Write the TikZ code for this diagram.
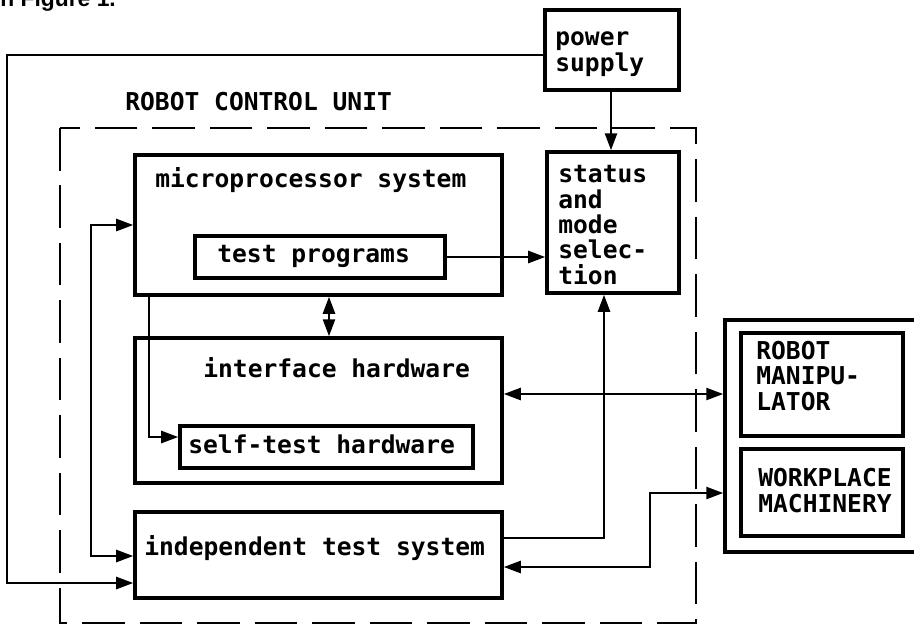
\documentclass[tikz,border=0pt]{standalone}
\usepackage{fontspec}
\setmainfont{Liberation Sans}
\setmonofont{DejaVu Sans Mono}
\usetikzlibrary{arrows.meta,fit}

\begin{document}
\begin{tikzpicture} [x=0.02cm, y=-0.02cm,
				block/.style={
				% The shape:
				rectangle,
				% The size:
				inner sep=0pt,
				% The border:
				line width=2pt,
				draw=black
				},
				txt/.style={
				% The font:
				font=\ttfamily\bfseries\fontsize{14pt}{14.4pt}\selectfont,
				% The placing (base = last line):
				inner sep=0pt,
				anchor=base west,
				align=left
				},
				conn/.style={
				line width=1.4pt,
				-{Triangle[length=3.4mm,width=2.4mm]}
				},
				twoway/.style={
				line width=1.4pt,
				{Triangle[length=3.4mm,width=2.4mm]}-{Triangle[length=3.4mm,width=2.4mm]}
				},
				unit/.style={
				line width=1.5pt,
				dash pattern=on 0.85cm off 0.3cm
				}
				]
    \useasboundingbox (0,0) rectangle (914,627);
    % text fragment above the figure
    \node [anchor=base west, inner sep=0pt, font=\bfseries\fontsize{13pt}{14pt}\selectfont] (fig) at (0,6) {n Figure 1.};
    % the control unit
    \draw [unit] (60,128) rectangle (696,623);
    \node [txt] (rcut) at (125,110) {ROBOT CONTROL UNIT};
    \node [block, fit={(545,10) (679,90)}] (pwr) {};
    \node [txt] (pwrt) at (555,71) {power\\supply};
    \node [block, fit={(135,155) (502,295)}] (mps) {};
    \node [txt] (mpst) at (155,187) {microprocessor system};
    \node [block, fit={(195,236) (445,278)}] (tp) {};
    \node [txt] (tpt) at (217,262) {test programs};
    \node [block, fit={(547,152) (679,293)}] (sms) {};
    \node [txt] (smst) at (558,284) {status\\and\\mode\\selec-\\tion};
    \node [block, fit={(135,338) (502,483)}] (ifh) {};
    \node [txt] (ifht) at (203,377) {interface hardware};
    \node [block, fit={(180,426) (473,468)}] (sth) {};
    \node [txt] (stht) at (188,453) {self-test hardware};
    \node [block, fit={(135,512) (502,598)}] (its) {};
    \node [txt] (itst) at (144,555) {independent test system};
    % the robot side
    \node [block, fit={(725,320) (940,552)}] (ext) {};
    \node [block, fit={(741,333) (903,436)}] (rm) {};
    \node [txt] (rmt) at (756,410) {ROBOT\\MANIPU-\\LATOR};
    \node [block, fit={(741,449) (903,536)}] (wm) {};
    \node [txt] (wmt) at (758,512) {WORKPLACE\\MACHINERY};
    % connections
    \draw [conn] (pwr.west |- 0,55) -- (7,55) |- (its.west |- 0,583);
    \draw [conn] (pwr.south -| 611,0) -- (sms.north -| 611,0);
    \draw [conn] (tp.east |- 0,257) -- (sms.west |- 0,257);
    \draw [conn] (its.east |- 0,538) -- (604,538) -- (sms.south -| 604,0);
    \draw [conn] (mps.south -| 149,0) |- (sth.west |- 0,437);
    \draw [twoway] (mps.south -| 329,0) -- (ifh.north -| 329,0);
    \draw [twoway] (mps.west) -- (91,225) |- (its.west |- 0,556);
    \draw [twoway] (ifh.east |- 0,394) -- (ext.west |- 0,394);
    \draw [twoway] (ext.west |- 0,493) -- (650,493) |- (its.east |- 0,567);
\end{tikzpicture}
\end{document}
